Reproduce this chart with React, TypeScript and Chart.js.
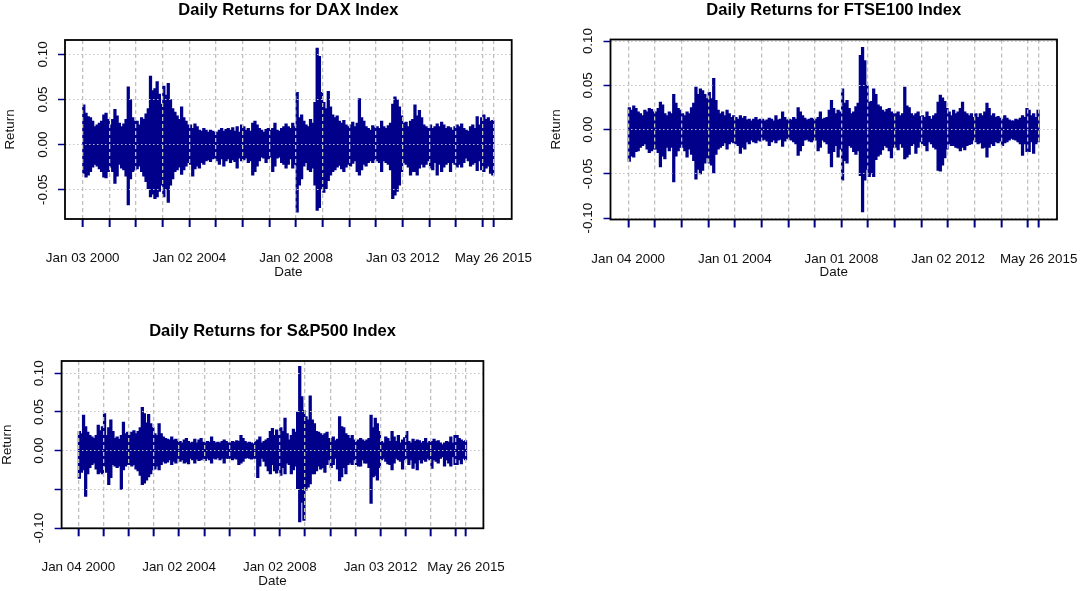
import { useEffect, useRef } from "react"
import { Chart, registerables } from "chart.js"

Chart.register(...registerables)

const FONT = '"Liberation Sans", Arial, sans-serif'
const NAVY = "#00008b"

// grid lines: first trading day of each year, plus the last observation (May 26 2015)
const yearTicks = [2000, 2001, 2002, 2003, 2004, 2005, 2006, 2007, 2008, 2009, 2010, 2011, 2012, 2013, 2014, 2015, 2015.397]
const labelledTicks = [2000, 2004, 2008, 2012, 2015.397]

const daxDates = ["Jan 03 2000", "Jan 02 2004", "Jan 02 2008", "Jan 03 2012", "May 26 2015"]
const ftseDates = ["Jan 04 2000", "Jan 01 2004", "Jan 01 2008", "Jan 02 2012", "May 26 2015"]
const spDates = ["Jan 04 2000", "Jan 02 2004", "Jan 02 2008", "Jan 03 2012", "May 26 2015"]

// monthly extremes of the daily returns, Jan 2000 .. May 2015 (one row per year)
const daxHigh = [
    0.044, 0.035, 0.031, 0.030, 0.026, 0.020, 0.022, 0.024, 0.026, 0.033, 0.035, 0.028,
    0.022, 0.028, 0.039, 0.032, 0.024, 0.020, 0.023, 0.028, 0.064, 0.050, 0.030, 0.026,
    0.026, 0.022, 0.030, 0.028, 0.034, 0.040, 0.076, 0.060, 0.062, 0.070, 0.056, 0.045,
    0.065, 0.055, 0.068, 0.050, 0.040, 0.036, 0.032, 0.028, 0.042, 0.030, 0.026, 0.022,
    0.022, 0.018, 0.023, 0.020, 0.016, 0.015, 0.018, 0.016, 0.014, 0.016, 0.015, 0.014,
    0.014, 0.016, 0.018, 0.015, 0.017, 0.018, 0.016, 0.019, 0.015, 0.020, 0.014, 0.022,
    0.020, 0.016, 0.018, 0.015, 0.024, 0.026, 0.022, 0.018, 0.016, 0.014, 0.017, 0.018,
    0.016, 0.018, 0.024, 0.016, 0.015, 0.018, 0.020, 0.023, 0.020, 0.018, 0.024, 0.020,
    0.058, 0.030, 0.033, 0.026, 0.022, 0.020, 0.028, 0.024, 0.047, 0.107, 0.098, 0.058,
    0.047, 0.040, 0.059, 0.042, 0.033, 0.030, 0.032, 0.026, 0.024, 0.027, 0.022, 0.020,
    0.022, 0.025, 0.020, 0.024, 0.051, 0.030, 0.026, 0.020, 0.018, 0.016, 0.021, 0.019,
    0.020, 0.018, 0.026, 0.020, 0.018, 0.021, 0.024, 0.045, 0.053, 0.050, 0.042, 0.032,
    0.024, 0.025, 0.020, 0.026, 0.028, 0.044, 0.032, 0.038, 0.030, 0.022, 0.020, 0.018,
    0.022, 0.018, 0.020, 0.023, 0.020, 0.025, 0.022, 0.018, 0.020, 0.019, 0.016, 0.020,
    0.022, 0.020, 0.023, 0.018, 0.016, 0.015, 0.020, 0.022, 0.018, 0.031, 0.022, 0.030,
    0.033, 0.028, 0.030, 0.026, 0.027,
]
const daxLow = [
    -0.032, -0.036, -0.034, -0.030, -0.025, -0.022, -0.024, -0.027, -0.030, -0.036, -0.037, -0.030,
    -0.025, -0.030, -0.043, -0.035, -0.022, -0.026, -0.028, -0.035, -0.067, -0.038, -0.030, -0.028,
    -0.027, -0.024, -0.030, -0.035, -0.041, -0.049, -0.058, -0.055, -0.060, -0.058, -0.052, -0.045,
    -0.058, -0.050, -0.064, -0.045, -0.038, -0.030, -0.028, -0.025, -0.033, -0.028, -0.024, -0.020,
    -0.022, -0.035, -0.027, -0.024, -0.026, -0.020, -0.022, -0.018, -0.017, -0.019, -0.016, -0.015,
    -0.018, -0.022, -0.016, -0.024, -0.018, -0.016, -0.020, -0.017, -0.019, -0.026, -0.015, -0.018,
    -0.017, -0.015, -0.020, -0.018, -0.034, -0.030, -0.024, -0.018, -0.014, -0.015, -0.020, -0.016,
    -0.014, -0.030, -0.024, -0.015, -0.014, -0.020, -0.022, -0.026, -0.022, -0.016, -0.026, -0.022,
    -0.075, -0.045, -0.038, -0.024, -0.020, -0.028, -0.030, -0.026, -0.045, -0.073, -0.070, -0.050,
    -0.053, -0.049, -0.040, -0.034, -0.030, -0.028, -0.025, -0.023, -0.027, -0.030, -0.025, -0.022,
    -0.024, -0.021, -0.018, -0.030, -0.034, -0.028, -0.022, -0.024, -0.020, -0.018, -0.020, -0.017,
    -0.018, -0.020, -0.030, -0.018, -0.020, -0.022, -0.028, -0.060, -0.056, -0.052, -0.045, -0.030,
    -0.020, -0.022, -0.025, -0.034, -0.030, -0.030, -0.034, -0.026, -0.022, -0.025, -0.022, -0.018,
    -0.026, -0.028, -0.020, -0.034, -0.022, -0.030, -0.025, -0.022, -0.020, -0.030, -0.020, -0.022,
    -0.025, -0.022, -0.025, -0.020, -0.015, -0.018, -0.024, -0.022, -0.020, -0.029, -0.018, -0.028,
    -0.030, -0.026, -0.024, -0.032, -0.034,
]

const ftseHigh = [
    0.025, 0.022, 0.027, 0.024, 0.020, 0.018, 0.016, 0.022, 0.020, 0.024, 0.023, 0.020,
    0.020, 0.024, 0.031, 0.028, 0.018, 0.016, 0.020, 0.018, 0.040, 0.030, 0.024, 0.022,
    0.018, 0.016, 0.020, 0.018, 0.025, 0.030, 0.048, 0.040, 0.046, 0.044, 0.040, 0.035,
    0.042, 0.035, 0.058, 0.033, 0.022, 0.018, 0.020, 0.016, 0.022, 0.018, 0.014, 0.016,
    0.014, 0.012, 0.016, 0.013, 0.015, 0.011, 0.012, 0.010, 0.012, 0.014, 0.011, 0.012,
    0.012, 0.010, 0.011, 0.013, 0.012, 0.010, 0.016, 0.011, 0.012, 0.020, 0.014, 0.011,
    0.012, 0.011, 0.014, 0.012, 0.025, 0.020, 0.016, 0.013, 0.011, 0.012, 0.013, 0.012,
    0.012, 0.014, 0.020, 0.012, 0.013, 0.014, 0.022, 0.033, 0.024, 0.018, 0.022, 0.020,
    0.046, 0.030, 0.033, 0.024, 0.018, 0.020, 0.026, 0.030, 0.084, 0.093, 0.078, 0.050,
    0.031, 0.032, 0.046, 0.040, 0.028, 0.026, 0.022, 0.020, 0.023, 0.024, 0.020, 0.018,
    0.018, 0.020, 0.016, 0.018, 0.048, 0.027, 0.025, 0.018, 0.016, 0.018, 0.020, 0.015,
    0.016, 0.014, 0.020, 0.015, 0.012, 0.016, 0.018, 0.031, 0.039, 0.036, 0.032, 0.024,
    0.020, 0.016, 0.022, 0.018, 0.020, 0.024, 0.031, 0.020, 0.018, 0.016, 0.018, 0.014,
    0.018, 0.014, 0.018, 0.016, 0.020, 0.030, 0.024, 0.016, 0.018, 0.014, 0.015, 0.013,
    0.012, 0.016, 0.013, 0.011, 0.010, 0.010, 0.012, 0.011, 0.013, 0.016, 0.014, 0.024,
    0.022, 0.016, 0.018, 0.014, 0.022,
]
const ftseLow = [
    -0.036, -0.030, -0.031, -0.025, -0.024, -0.020, -0.018, -0.016, -0.022, -0.026, -0.024, -0.022,
    -0.022, -0.026, -0.042, -0.030, -0.033, -0.020, -0.024, -0.020, -0.059, -0.030, -0.024, -0.020,
    -0.020, -0.024, -0.031, -0.022, -0.028, -0.035, -0.056, -0.045, -0.050, -0.046, -0.038, -0.032,
    -0.038, -0.040, -0.049, -0.028, -0.022, -0.020, -0.018, -0.015, -0.022, -0.016, -0.014, -0.015,
    -0.016, -0.018, -0.027, -0.020, -0.022, -0.014, -0.016, -0.012, -0.014, -0.015, -0.012, -0.013,
    -0.012, -0.011, -0.013, -0.018, -0.014, -0.012, -0.015, -0.012, -0.011, -0.019, -0.013, -0.010,
    -0.011, -0.012, -0.014, -0.016, -0.029, -0.024, -0.018, -0.012, -0.011, -0.013, -0.014, -0.012,
    -0.012, -0.024, -0.020, -0.012, -0.014, -0.016, -0.027, -0.042, -0.025, -0.018, -0.031, -0.022,
    -0.057, -0.035, -0.038, -0.018, -0.020, -0.025, -0.028, -0.024, -0.052, -0.093, -0.057, -0.045,
    -0.053, -0.050, -0.053, -0.034, -0.030, -0.028, -0.023, -0.018, -0.020, -0.024, -0.032, -0.020,
    -0.020, -0.023, -0.016, -0.020, -0.033, -0.031, -0.028, -0.018, -0.016, -0.027, -0.020, -0.014,
    -0.016, -0.018, -0.024, -0.014, -0.016, -0.020, -0.022, -0.046, -0.047, -0.040, -0.032, -0.022,
    -0.016, -0.018, -0.018, -0.020, -0.021, -0.024, -0.020, -0.023, -0.018, -0.017, -0.016, -0.012,
    -0.014, -0.016, -0.015, -0.021, -0.020, -0.031, -0.020, -0.016, -0.018, -0.014, -0.015, -0.013,
    -0.018, -0.015, -0.014, -0.012, -0.010, -0.011, -0.012, -0.014, -0.016, -0.029, -0.016, -0.025,
    -0.025, -0.014, -0.027, -0.016, -0.014,
]

const spHigh = [
    0.025, 0.022, 0.046, 0.031, 0.024, 0.020, 0.018, 0.016, 0.020, 0.033, 0.026, 0.031,
    0.048, 0.020, 0.030, 0.040, 0.025, 0.016, 0.018, 0.015, 0.020, 0.037, 0.022, 0.024,
    0.020, 0.024, 0.026, 0.022, 0.025, 0.030, 0.056, 0.048, 0.036, 0.047, 0.035, 0.030,
    0.022, 0.020, 0.035, 0.022, 0.018, 0.016, 0.015, 0.014, 0.018, 0.014, 0.015, 0.012,
    0.012, 0.010, 0.014, 0.016, 0.012, 0.010, 0.011, 0.015, 0.010, 0.014, 0.016, 0.011,
    0.010, 0.012, 0.011, 0.018, 0.012, 0.010, 0.011, 0.010, 0.012, 0.014, 0.012, 0.010,
    0.010, 0.012, 0.011, 0.013, 0.012, 0.020, 0.016, 0.012, 0.010, 0.011, 0.010, 0.009,
    0.012, 0.014, 0.018, 0.010, 0.012, 0.014, 0.016, 0.025, 0.029, 0.020, 0.027, 0.020,
    0.030, 0.025, 0.042, 0.022, 0.014, 0.020, 0.028, 0.024, 0.050, 0.109, 0.070, 0.052,
    0.044, 0.040, 0.071, 0.040, 0.035, 0.025, 0.024, 0.022, 0.020, 0.022, 0.024, 0.016,
    0.016, 0.018, 0.013, 0.015, 0.044, 0.031, 0.030, 0.022, 0.020, 0.016, 0.020, 0.014,
    0.012, 0.014, 0.016, 0.014, 0.012, 0.014, 0.016, 0.046, 0.030, 0.042, 0.035, 0.025,
    0.012, 0.010, 0.018, 0.016, 0.012, 0.025, 0.018, 0.012, 0.020, 0.010, 0.014, 0.017,
    0.025, 0.012, 0.010, 0.015, 0.012, 0.014, 0.013, 0.010, 0.012, 0.016, 0.010, 0.012,
    0.012, 0.015, 0.012, 0.013, 0.010, 0.008, 0.010, 0.012, 0.011, 0.018, 0.010, 0.020,
    0.020, 0.016, 0.014, 0.012, 0.013,
]
const spLow = [
    -0.036, -0.028, -0.025, -0.059, -0.030, -0.022, -0.018, -0.016, -0.024, -0.030, -0.028, -0.030,
    -0.020, -0.028, -0.044, -0.035, -0.018, -0.020, -0.022, -0.020, -0.050, -0.025, -0.020, -0.018,
    -0.018, -0.020, -0.018, -0.024, -0.026, -0.032, -0.044, -0.042, -0.038, -0.034, -0.030, -0.025,
    -0.024, -0.020, -0.025, -0.018, -0.014, -0.016, -0.015, -0.012, -0.018, -0.014, -0.016, -0.010,
    -0.014, -0.012, -0.016, -0.015, -0.017, -0.010, -0.012, -0.016, -0.011, -0.013, -0.012, -0.010,
    -0.013, -0.010, -0.012, -0.016, -0.010, -0.011, -0.009, -0.012, -0.010, -0.016, -0.010, -0.010,
    -0.010, -0.012, -0.010, -0.011, -0.018, -0.016, -0.014, -0.010, -0.009, -0.010, -0.011, -0.010,
    -0.010, -0.035, -0.020, -0.010, -0.014, -0.020, -0.026, -0.030, -0.018, -0.026, -0.029, -0.025,
    -0.032, -0.022, -0.030, -0.016, -0.018, -0.030, -0.025, -0.020, -0.049, -0.092, -0.067, -0.090,
    -0.051, -0.047, -0.043, -0.030, -0.030, -0.026, -0.020, -0.024, -0.022, -0.028, -0.018, -0.012,
    -0.022, -0.018, -0.010, -0.024, -0.039, -0.034, -0.022, -0.030, -0.018, -0.016, -0.018, -0.012,
    -0.018, -0.020, -0.020, -0.012, -0.016, -0.016, -0.022, -0.068, -0.034, -0.032, -0.038, -0.022,
    -0.012, -0.010, -0.014, -0.017, -0.018, -0.025, -0.016, -0.010, -0.012, -0.014, -0.024, -0.012,
    -0.010, -0.018, -0.012, -0.023, -0.016, -0.025, -0.012, -0.016, -0.012, -0.014, -0.010, -0.012,
    -0.023, -0.012, -0.014, -0.016, -0.010, -0.008, -0.020, -0.012, -0.016, -0.020, -0.008, -0.018,
    -0.018, -0.012, -0.017, -0.010, -0.012,
]

const daxYTicks = [-0.05, 0, 0.05, 0.1]
const daxYLabels = ["-0.05", "0.00", "0.05", "0.10"]
const ftseYTicks = [-0.1, -0.05, 0, 0.05, 0.1]
const ftseYLabels = ["-0.10", "-0.05", "0.00", "0.05", "0.10"]
const spYTicks = [-0.1, -0.05, 0, 0.05, 0.1]
const spYLabels = ["-0.10", "", "0.00", "0.05", "0.10"]

// one floating bar per month, from the month's lowest to its highest daily return
function monthlyBars(high: number[], low: number[]) {
    return high.map((h, i) => ({
        x: 2000 + Math.floor(i / 12) + (i % 12 + 0.5) / 12,
        y: [low[i], h]
    }))
}

type Area = { left: number, right: number, top: number, bottom: number }

type PanelProps = {
    title: string
    high: number[]
    low: number[]
    dates: string[]
    yMin: number
    yMax: number
    yTicks: number[]
    yLabels: string[]
    left: number
    top: number
    width: number
    height: number
    area: Area
}

function ReturnsPanel(props: PanelProps) {
    const canvasRef = useRef<HTMLCanvasElement>(null)

    useEffect(() => {
        const { area, width, height } = props

        const decorations = {
            id: "panelText",
            afterDraw(chart: Chart) {
                const { ctx, chartArea: a, scales } = chart
                const midX = (a.left + a.right) / 2
                const midY = (a.top + a.bottom) / 2
                ctx.save()
                ctx.setLineDash([])
                ctx.strokeStyle = "#000"
                ctx.lineWidth = 1.8
                ctx.strokeRect(a.left, a.top, a.right - a.left, a.bottom - a.top)

                ctx.fillStyle = "#000"
                ctx.textAlign = "center"
                ctx.textBaseline = "middle"
                ctx.font = `bold 16.5px ${FONT}`
                ctx.fillText(props.title, midX, a.top - 29.5)

                ctx.fillStyle = "#111"
                ctx.font = `13.4px ${FONT}`
                labelledTicks.forEach((v, i) => {
                    ctx.fillText(props.dates[i], scales.x.getPixelForValue(v), a.bottom + 39.5)
                })
                ctx.fillText("Date", midX, a.bottom + 53)

                props.yTicks.forEach((v, i) => {
                    if (!props.yLabels[i]) return
                    ctx.save()
                    ctx.translate(a.left - 22, scales.y.getPixelForValue(v))
                    ctx.rotate(-Math.PI / 2)
                    ctx.fillText(props.yLabels[i], 0, 0)
                    ctx.restore()
                })

                ctx.save()
                ctx.translate(a.left - 54.5, midY)
                ctx.rotate(-Math.PI / 2)
                ctx.fillText("Return", 0, 0)
                ctx.restore()
                ctx.restore()
            }
        }

        const chart = new Chart(canvasRef.current, {
            type: "bar",
            data: {
                datasets: [
                    {
                        data: monthlyBars(props.high, props.low),
                        backgroundColor: NAVY,
                        borderWidth: 0,
                        barThickness: 2.6,
                        grouped: false
                    }
                ]
            },
            options: {
                animation: false,
                responsive: false,
                maintainAspectRatio: false,
                layout: {
                    padding: { left: 0, top: area.top, right: width - area.right, bottom: 0 }
                },
                plugins: {
                    legend: { display: false },
                    tooltip: { enabled: false }
                },
                scales: {
                    x: {
                        type: "linear",
                        min: 1999.336,
                        max: 2016.085,
                        offset: false,
                        afterBuildTicks: (scale) => {
                            scale.ticks = yearTicks.map((value) => ({ value }))
                        },
                        afterFit: (scale) => {
                            scale.height = height - area.bottom
                        },
                        ticks: { display: false },
                        grid: {
                            z: 1,
                            offset: false,
                            color: "#c0c0c0",
                            lineWidth: 1.3,
                            tickColor: NAVY,
                            tickLength: 8,
                            tickWidth: 2,
                            tickBorderDash: []
                        },
                        border: { display: false, dash: [4, 3] }
                    },
                    y: {
                        min: props.yMin,
                        max: props.yMax,
                        afterBuildTicks: (scale) => {
                            scale.ticks = props.yTicks.map((value) => ({ value }))
                        },
                        afterFit: (scale) => {
                            scale.width = area.left
                        },
                        ticks: { display: false },
                        grid: {
                            z: 1,
                            color: "#c4c4c4",
                            lineWidth: 1,
                            tickColor: NAVY,
                            tickLength: 7,
                            tickWidth: 1.5,
                            tickBorderDash: []
                        },
                        border: { display: false, dash: [1.5, 2.5] }
                    }
                }
            },
            plugins: [decorations]
        })

        return () => {
            chart.destroy()
        }
    }, [])

    return (
        <canvas
            ref={canvasRef}
            width={props.width}
            height={props.height}
            style={{ position: "absolute", left: props.left, top: props.top }}
        ></canvas>
    )
}

export default function App() {
    return (
        <div style={{ position: "absolute", left: 0, top: 0, width: 1084, height: 591, background: "#fff", overflow: "hidden" }}>
            <ReturnsPanel
                title="Daily Returns for DAX Index"
                high={daxHigh}
                low={daxLow}
                dates={daxDates}
                yMin={-0.0825}
                yMax={0.116}
                yTicks={daxYTicks}
                yLabels={daxYLabels}
                left={0}
                top={0}
                width={542}
                height={295}
                area={{ left: 65, right: 511.7, top: 40, bottom: 219 }}
            />
            <ReturnsPanel
                title="Daily Returns for FTSE100 Index"
                high={ftseHigh}
                low={ftseLow}
                dates={ftseDates}
                yMin={-0.1015}
                yMax={0.1018}
                yTicks={ftseYTicks}
                yLabels={ftseYLabels}
                left={542}
                top={0}
                width={542}
                height={295}
                area={{ left: 68.5, right: 515, top: 39.5, bottom: 219.5 }}
            />
            <ReturnsPanel
                title="Daily Returns for S&P500 Index"
                high={spHigh}
                low={spLow}
                dates={spDates}
                yMin={-0.1003}
                yMax={0.1159}
                yTicks={spYTicks}
                yLabels={spYLabels}
                left={0}
                top={295}
                width={542}
                height={296}
                area={{ left: 61.6, right: 483.4, top: 66, bottom: 233.3 }}
            />
        </div>
    )
}
